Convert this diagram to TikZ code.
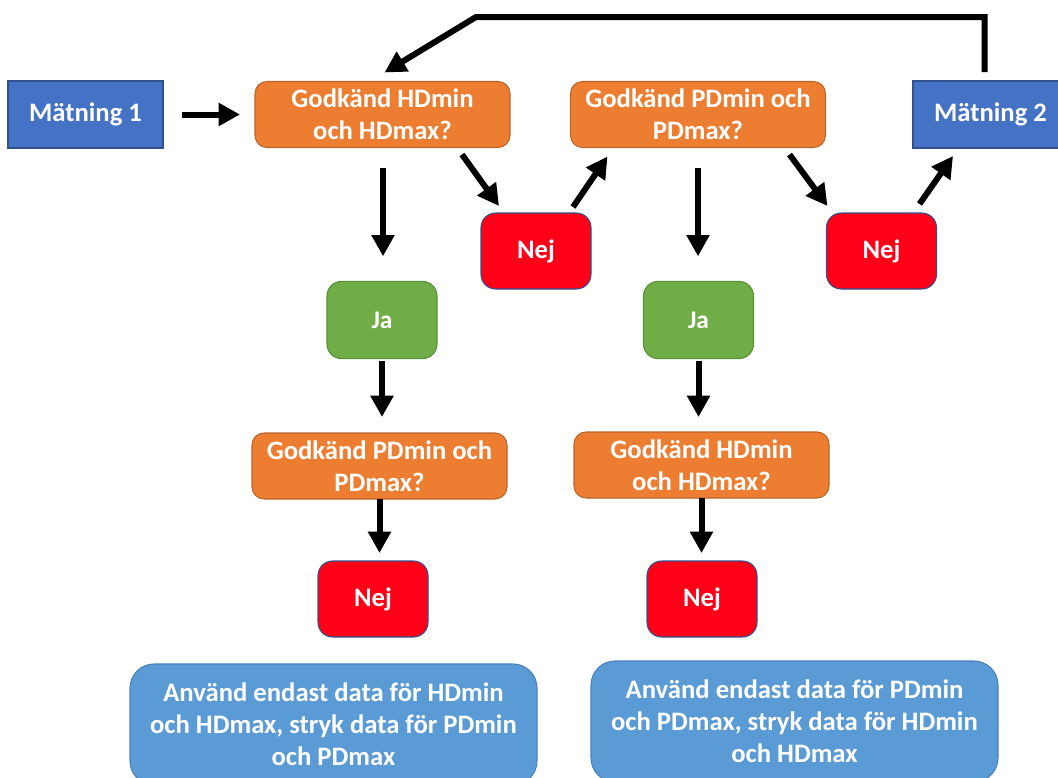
\documentclass[tikz,border=0pt]{standalone}
\usepackage{fontspec}
\setmainfont{Carlito}
\usetikzlibrary{arrows.meta,calc}

\definecolor{mblue}{HTML}{4472C4}
\definecolor{mblueline}{HTML}{2F528F}
\definecolor{qorange}{HTML}{ED7D31}
\definecolor{qorangeline}{HTML}{B9652A}
\definecolor{nred}{HTML}{FF0018}
\definecolor{ygreen}{HTML}{70AD47}
\definecolor{ygreenline}{HTML}{5A8F38}
\definecolor{rblue}{HTML}{5B9BD5}
\definecolor{rblueline}{HTML}{4A82B8}

\tikzset{
  x=0.75pt, y=-0.75pt,
  base/.style={inner sep=0pt, outer sep=0pt, line width=0.8pt, text=white,
    font=\fontsize{20}{24}\selectfont\bfseries, align=center},
  measure/.style={base, rectangle, fill=mblue, draw=mblueline,
    minimum width=116.25pt, minimum height=50.25pt},
  question/.style={base, rectangle, rounded corners=9pt, fill=qorange, draw=qorangeline,
    minimum width=191.25pt, minimum height=49.5pt},
  nobox/.style={base, rectangle, rounded corners=11pt, fill=nred, draw=mblueline,
    minimum width=82.5pt, minimum height=57pt},
  yesbox/.style={base, rectangle, rounded corners=11pt, fill=ygreen, draw=ygreenline,
    minimum width=82.5pt, minimum height=58pt, font=\fontsize{19}{22}\selectfont\bfseries},
  result/.style={base, rectangle, rounded corners=18pt, fill=rblue, draw=rblueline,
    minimum width=305.25pt, minimum height=90.75pt},
  arr/.style={line width=4.5pt, -{Triangle[length=16pt,width=16.5pt]}},
}

\begin{document}
\begin{tikzpicture}
\useasboundingbox (0,0) rectangle (1058,778);

% measurements
\node[measure] (m1) at (85.5,114.5) {Mätning 1};
\node[measure] (m2) at (990.5,114.5) {Mätning 2};

% first row of questions
\node[question] (g1) at (382.5,114.5) {Godkänd HDmin\\och HDmax?};
\node[question] (g2) at (698,114.5) {Godkänd PDmin och\\PDmax?};

% answers to the first row
\node[nobox] (n1) at (536,251) {Nej};
\node[nobox] (n2) at (881.5,251) {Nej};
\node[yesbox] (j1) at (382,320) {Ja};
\node[yesbox] (j2) at (698.5,320) {Ja};

% second row of questions
\node[question] (g3) at (379.5,466) {Godkänd PDmin och\\PDmax?};
\node[question] (g4) at (701.5,465) {Godkänd HDmin\\och HDmax?};

\node[nobox] (n3) at (373,599) {Nej};
\node[nobox] (n4) at (702,599) {Nej};

% conclusions
\node[result] (r1) at (333.5,724.5) {Använd endast data för HDmin\\och HDmax, stryk data för PDmin\\och PDmax};
\node[result] (r2) at (794.5,721.5) {Använd endast data för PDmin\\och PDmax, stryk data för HDmin\\och HDmax};

% connectors
\draw[arr] ($(m1.east)+(19,0)$) -- ($(g1.west)+(-15,0)$);

\draw[arr, shorten <=15pt, shorten >=18.75pt] (g1.south -| 383,0) -- (j1.north -| 383,0);
\draw[arr, shorten <=2pt, shorten >=12pt] (j1.south) -- (j1.south |- g3.north);
\draw[arr, shorten >=6pt] (g3.south) -- (g3.south |- n3.north);

\draw[arr, shorten <=15pt, shorten >=18.75pt] (g2.south) -- (g2.south |- j2.north);
\draw[arr, shorten <=2pt, shorten >=11.25pt] (j2.south) -- (j2.south |- g4.north);
\draw[arr, shorten >=6pt] (g4.south) -- (g4.south |- n4.north);

\draw[arr] ($(g1.south east)+(-48,7)$) -- ($(n1.north west)+(18,-7)$);
\draw[arr] ($(n1.north east)+(-18,-6)$) -- ($(g2.south west)+(37,9)$);
\draw[arr] ($(g2.south east)+(-36,7)$) -- ($(n2.north west)+(1,-7)$);
\draw[arr] ($(n2.north east)+(-17,-9)$) -- ($(m2.south west)+(40,8)$);

% feedback from the second measurement
\coordinate (turn) at (476,17);
\draw[arr] ($(m2.north)+(-6,-9)$) |- (turn) -- ($(g1.north)+(2,-9)$);
\end{tikzpicture}
\end{document}
